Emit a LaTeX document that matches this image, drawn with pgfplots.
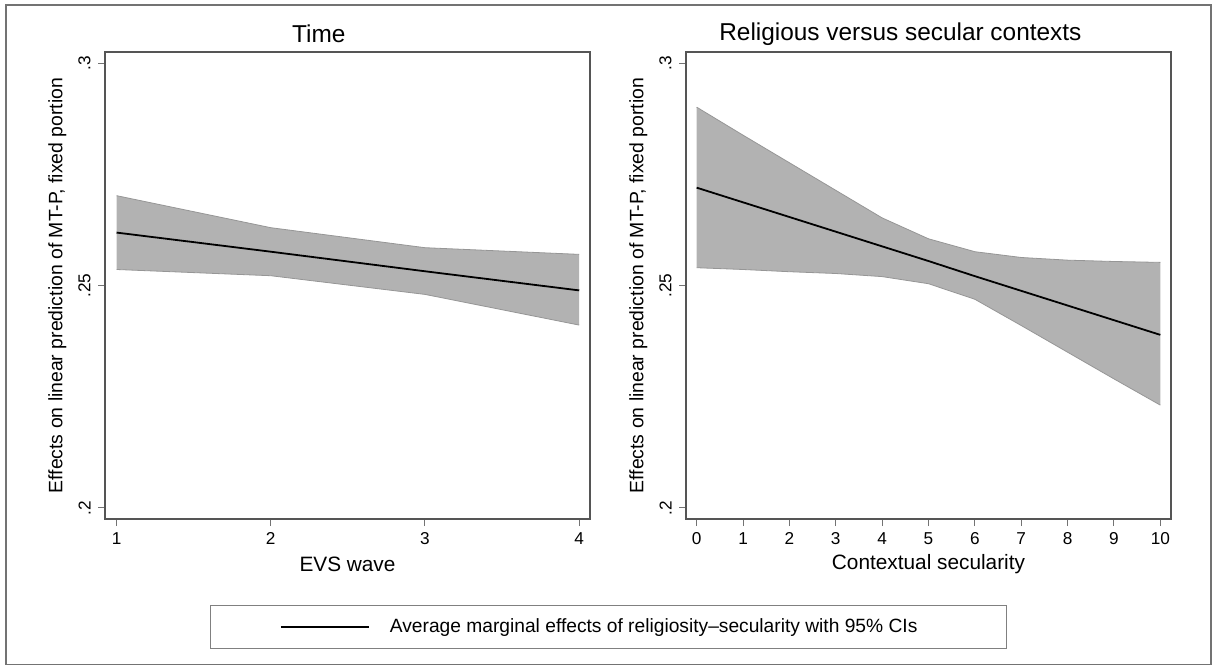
\documentclass[border=0pt]{standalone}
\usepackage{pgfplots}
\pgfplotsset{compat=1.18}
\usepackage{pgfplotstable}
\usepgfplotslibrary{fillbetween}
\usepackage{fontspec}
\setmainfont{Liberation Sans}
\definecolor{band}{RGB}{178,178,178}
\definecolor{bandedge}{RGB}{150,150,150}
\definecolor{frame}{RGB}{85,85,85}

\pgfplotstableread{
x mean up lo
1 0.2619 0.2702 0.2536
2 0.2576 0.2630 0.2522
3 0.2532 0.2585 0.2480
4 0.2489 0.2570 0.2411
}\tabL

\pgfplotstableread{
x mean up lo
0 0.2720 0.2901 0.2540
1 0.2687 0.2838 0.2536
2 0.2654 0.2776 0.2531
3 0.2621 0.2714 0.2527
4 0.2588 0.2652 0.2520
5 0.2555 0.2605 0.2504
6 0.2521 0.2576 0.2469
7 0.2488 0.2563 0.2410
8 0.2455 0.2557 0.2350
9 0.2422 0.2554 0.2290
10 0.2389 0.2552 0.2231
}\tabR

\pgfplotsset{
  every axis title shift=0pt,
  stata/.style={
    scale only axis,
    width=242.5pt, height=233.5pt,
    anchor=south west,
    ymin=0.1975, ymax=0.3025,
    ytick={0.2,0.25,0.3},
    yticklabels={.2,.25,.3},
    tick pos=left,
    tick align=outside,
    major tick length=3.5pt,
    major tick style={black!55, line width=0.5pt},
    axis line style={frame, line width=0.7pt},
    /pgf/number format/assume math mode=true,
    ticklabel style={font=\fontsize{8.6}{10}\selectfont},
    yticklabel style={rotate=90, anchor=south, inner sep=3.5pt},
    xticklabel style={inner sep=3pt},
    xlabel style={font=\fontsize{10.4}{12}\selectfont},
    ylabel style={font=\fontsize{9.7}{12}\selectfont},
    title style={font=\fontsize{12.2}{14}\selectfont, anchor=center},
    ylabel={Effects on linear prediction of MT-P, fixed portion},
    ylabel style={at={(axis description cs:-0.098,0.5)}, anchor=center, rotate=0},
    xlabel style={at={(axis description cs:0.5,-0.0964)}, anchor=center},
    clip=false,
  }
}

\begin{document}
\begin{tikzpicture}
\path (0pt,0pt) rectangle (606.5pt,333pt);
\draw[black!55, line width=0.7pt] (3pt,0.7pt) rectangle (605.5pt,330.5pt);

\begin{axis}[stata,
  at={(52.5pt,73.5pt)},
  xmin=0.925, xmax=4.07,
  xtick={1,2,3,4},
  xlabel={EVS wave},
  title={Time},
  title style={at={(axis description cs:0.441,1.0385)}},
  legend style={at={(axis description cs:1.039,-0.2313)}, anchor=center,
    draw=black!50, line width=0.5pt, inner xsep=0pt, inner ysep=4.5pt,
    font=\fontsize{9.6}{11}\selectfont},
  legend image code/.code={\path[draw=none] (-35pt,0pt) -- (52.5pt,0pt);\draw[black, line width=1pt] (0pt,0pt) -- (44pt,0pt);},
]
\addplot[draw=bandedge, line width=0.4pt, name path=U, forget plot] table[x=x,y=up]{\tabL};
\addplot[draw=bandedge, line width=0.4pt, name path=L, forget plot] table[x=x,y=lo]{\tabL};
\addplot[fill=band, draw=none, forget plot] fill between[of=U and L];
\addplot[black, line width=0.9pt] table[x=x,y=mean]{\tabL};
\addlegendentry{\makebox[306.5pt][l]{Average marginal effects of religiosity\textendash secularity with 95\% CIs}}
\end{axis}

\begin{axis}[stata,
  at={(343pt,73.5pt)},
  xmin=-0.23, xmax=10.23,
  xtick={0,1,...,10},
  xlabel={Contextual secularity},
  title={Religious versus secular contexts},
  title style={at={(axis description cs:0.442,1.0385)}},
]
\addplot[draw=bandedge, line width=0.4pt, name path=U] table[x=x,y=up]{\tabR};
\addplot[draw=bandedge, line width=0.4pt, name path=L] table[x=x,y=lo]{\tabR};
\addplot[fill=band, draw=none] fill between[of=U and L];
\addplot[black, line width=0.9pt] table[x=x,y=mean]{\tabR};
\end{axis}
\end{tikzpicture}
\end{document}
